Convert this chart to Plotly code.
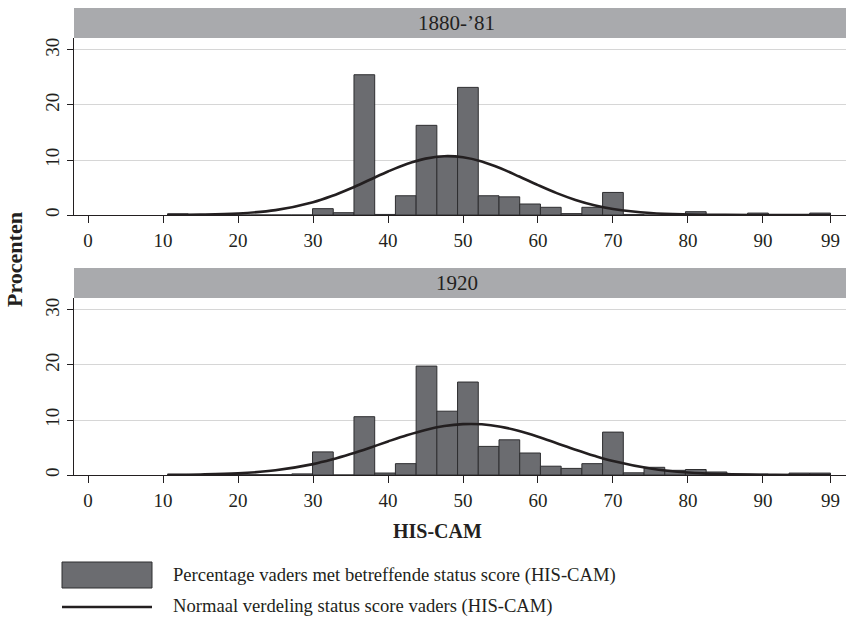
import plotly.graph_objects as go

# ---------------- data ----------------
BIN_START = 10.6
BIN_WIDTH = 2.7625
N_BINS = 32

pct_1880 = [0.2, 0, 0, 0, 0, 0, 0, 1.15, 0.42, 25.5, 0.1, 3.5, 16.3, 10.7, 23.2, 3.5,
            3.3, 2.0, 1.4, 0.25, 1.4, 4.1, 0.1, 0, 0, 0.6, 0, 0, 0.35, 0, 0, 0.35]
pct_1920 = [0.1, 0.05, 0.05, 0.05, 0.05, 0.05, 0.2, 4.2, 0, 10.6, 0.36, 2.06, 19.8, 11.6, 16.9, 5.2,
            6.4, 4.0, 1.6, 1.2, 2.06, 7.8, 0.4, 1.4, 0.85, 1.0, 0.55, 0.15, 0.15, 0.05, 0.35, 0.35]

curve_x = [10.6, 15, 20, 25, 30, 32.5, 35, 37.5, 40, 42.5, 45, 47.5, 50, 52.5, 55, 57.5,
           60, 62.5, 65, 67.5, 70, 75, 80, 85, 90, 95, 99]
normal_1880 = [0.015, 0.063, 0.27, 0.88, 2.32, 3.45, 4.83, 6.36, 7.91, 9.28, 10.25, 10.69, 10.50,
               9.73, 8.49, 6.99, 5.43, 3.97, 2.74, 1.78, 1.10, 0.35, 0.09, 0.017, 0.003, 0.0, 0.0]
normal_1920 = [0.03, 0.09, 0.30, 0.85, 1.98, 2.80, 3.80, 4.92, 6.10, 7.23, 8.20, 8.90, 9.25,
               9.22, 8.78, 7.99, 6.95, 5.78, 4.60, 3.50, 2.54, 1.18, 0.45, 0.15, 0.04, 0.009, 0.002]

panel_titles = ["1880-\u201981", "1920"]
x_ticks = [0, 10, 20, 30, 40, 50, 60, 70, 80, 90, 99]
y_ticks = [0, 10, 20, 30]

bar_label = "Percentage vaders met betreffende status score (HIS-CAM)"
line_label = "Normaal verdeling status score vaders (HIS-CAM)"

# ---------------- layout helpers ----------------
W, H = 846, 621
FONT = "Liberation Serif"
BAR_FILL = "#6b6c70"
BAR_LINE = "#2e2e30"
STRIP = "#a9aaad"
INK = "#231f20"

def px_x(p):
    return p / W

def px_y(p):
    return 1 - p / H

bin_centers = [BIN_START + BIN_WIDTH * (i + 0.5) for i in range(N_BINS)]

fig = go.Figure()

panels = [
    (pct_1880, normal_1880, "x", "y", 38, 215, 8),
    (pct_1920, normal_1920, "x2", "y2", 298, 475, 268),
]

for (vals, curve, xa, ya, top, bot, strip_top), title in zip(panels, panel_titles):
    fig.add_trace(go.Bar(
        x=bin_centers, y=vals, width=BIN_WIDTH,
        marker=dict(color=BAR_FILL, line=dict(color=BAR_LINE, width=1)),
        xaxis=xa, yaxis=ya, showlegend=False, hoverinfo="x+y",
    ))
    fig.add_trace(go.Scatter(
        x=curve_x, y=curve, mode="lines",
        line=dict(color=INK, width=2.6, shape="spline", smoothing=1.0),
        xaxis=xa, yaxis=ya, showlegend=False,
    ))
    # strip
    fig.add_shape(type="rect", xref="paper", yref="paper",
                  x0=px_x(74), x1=px_x(846), y0=px_y(top), y1=px_y(strip_top),
                  fillcolor=STRIP, line=dict(width=0), layer="below")
    fig.add_annotation(xref="paper", yref="paper", x=px_x(457), y=px_y((top + strip_top) / 2),
                       text=title, showarrow=False, xanchor="center", yanchor="middle",
                       font=dict(family=FONT, size=21, color=INK))

axis_common_x = dict(
    range=[-1.87, 101.07], tickmode="array", tickvals=x_ticks,
    ticktext=[str(t) for t in x_ticks], ticks="outside", ticklen=7, tickwidth=1,
    tickcolor=INK, showline=True, linecolor=INK, linewidth=1, showgrid=False,
    zeroline=False, tickfont=dict(family=FONT, size=19, color=INK), fixedrange=True,
    ticklabelstandoff=1,
)
axis_common_y = dict(
    range=[0, 32.18], tickmode="array", tickvals=y_ticks, ticks="outside", ticklen=6,
    tickwidth=1, tickcolor=INK, showline=True, linecolor=INK, linewidth=1,
    showgrid=True, gridcolor="#d6d6d6", gridwidth=1, zeroline=False, tickangle=-90,
    tickfont=dict(family=FONT, size=19, color=INK), fixedrange=True,
)

fig.update_layout(
    width=W, height=H,
    margin=dict(l=0, r=0, t=0, b=0, autoexpand=False),
    paper_bgcolor="white", plot_bgcolor="white",
    barmode="overlay", showlegend=False,
    xaxis=dict(domain=[px_x(74), 1.0], anchor="y", **axis_common_x),
    yaxis=dict(domain=[px_y(215), px_y(38)], anchor="x", **axis_common_y),
    xaxis2=dict(domain=[px_x(74), 1.0], anchor="y2", **axis_common_x),
    yaxis2=dict(domain=[px_y(475), px_y(298)], anchor="x2", **axis_common_y),
    font=dict(family=FONT, color=INK),
)

# axis titles
fig.add_annotation(xref="paper", yref="paper", x=px_x(14), y=px_y(260), text="<b>Procenten</b>",
                   textangle=-90, showarrow=False, xanchor="center", yanchor="middle",
                   font=dict(family=FONT, size=22, color=INK))
fig.add_annotation(xref="paper", yref="paper", x=px_x(437), y=px_y(531), text="<b>HIS-CAM</b>",
                   showarrow=False, xanchor="center", yanchor="middle",
                   font=dict(family=FONT, size=20, color=INK))

# legend (drawn manually)
fig.add_shape(type="rect", xref="paper", yref="paper",
              x0=px_x(62), x1=px_x(152), y0=px_y(588), y1=px_y(562),
              fillcolor=BAR_FILL, line=dict(color=BAR_LINE, width=1))
fig.add_shape(type="line", xref="paper", yref="paper",
              x0=px_x(62), x1=px_x(152), y0=px_y(607), y1=px_y(607),
              line=dict(color=INK, width=2.6))
fig.add_annotation(xref="paper", yref="paper", x=px_x(171), y=px_y(575), text=bar_label,
                   showarrow=False, xanchor="left", yanchor="middle",
                   font=dict(family=FONT, size=18.6, color=INK))
fig.add_annotation(xref="paper", yref="paper", x=px_x(171), y=px_y(606), text=line_label,
                   showarrow=False, xanchor="left", yanchor="middle",
                   font=dict(family=FONT, size=18.6, color=INK))

fig.write_html("out.html", config={"displayModeBar": False},
               post_script="document.body.style.margin='0px';document.body.style.padding='0px';")
